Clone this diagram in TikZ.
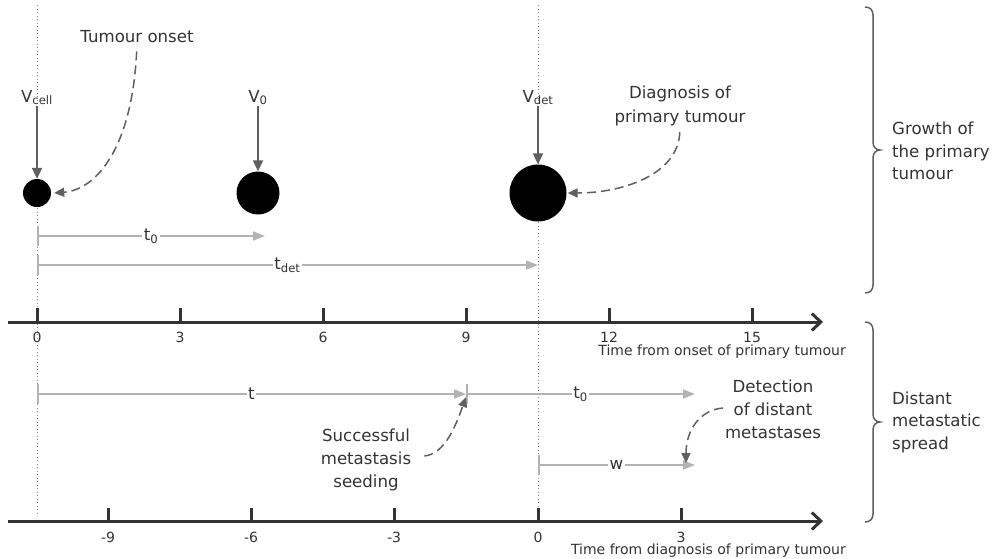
\documentclass[tikz,border=0pt]{standalone}
\usepackage{fontspec}
\setmainfont{DejaVu Sans}
\usetikzlibrary{arrows.meta}
\definecolor{ink}{HTML}{333333}
\definecolor{darr}{HTML}{5F5F5F}
\definecolor{lgray}{HTML}{B3B3B3}
\definecolor{dotc}{HTML}{8A8A8A}
\newcommand{\lowsub}[1]{\textsubscript{#1}}
\begin{document}
\begin{tikzpicture}[x=1pt,y=-1pt,
  big/.style={font=\fontsize{16.6}{24}\selectfont, text=ink, inner sep=1pt, align=center},
  bracetxt/.style={font=\fontsize{16.6}{22.5}\selectfont, text=ink, inner sep=1pt, align=left, anchor=west},
  small/.style={font=\fontsize{14}{17}\selectfont, text=ink, inner sep=1pt},
  tumour/.style={circle, fill=black, inner sep=0pt, minimum size=#1},
  axisline/.style={line width=3pt, draw=ink, -{Straight Barb[length=9pt,width=17pt,line width=3pt]}},
  tickmark/.style={line width=3pt, draw=ink},
  vdown/.style={line width=2pt, draw=darr, -{Triangle[length=11pt,width=10pt]}},
  callout/.style={line width=1.5pt, draw=darr, dash pattern=on 9pt off 5pt, -{Triangle[length=10pt,width=9pt]}},
  span/.style={line width=1.6pt, draw=lgray, {Bar[width=20pt]}-{Triangle[length=12pt,width=9pt]}},
  spanlbl/.style={fill=white, font=\fontsize{16.6}{20}\selectfont, text=ink, inner sep=1.5pt},
  guide/.style={draw=dotc, line width=1pt, dash pattern=on 1pt off 2.5pt},
  bracec/.style={draw=darr, line width=1.5pt}
]
\useasboundingbox (0,0) rectangle (994,558);

% guide lines
\coordinate (g1top) at (37,5);
\coordinate (g1bot) at (37,515);
\coordinate (g2top) at (538,5);
\coordinate (g2bot) at (538,508);
\draw[guide] (g1top) -- (g1bot);
\draw[guide] (g2top) -- (g2bot);

% tumours
\node[tumour=28pt] (c1) at (37,193) {};
\node[tumour=43pt] (c2) at (258,193) {};
\node[tumour=57pt] (c3) at (538,193) {};

% volume labels
\node[big, anchor=base] (vcell) at (37,102) {V\lowsub{cell}};
\node[big, anchor=base] (vzero) at (258,102) {V\lowsub{0}};
\node[big, anchor=base] (vdet) at (538,102) {V\lowsub{det}};
\draw[vdown] (vcell) -- (c1);
\draw[vdown] (vzero) -- (c2);
\draw[vdown] (vdet) -- (c3);

% callouts top
\node[big] (onset) at (137,37) {Tumour onset};
\node[big] (diag) at (680,106) {Diagnosis of\\primary tumour};
\draw[callout, shorten <=7pt] (onset.south) .. controls (132,150) and (95,190) .. ([xshift=3pt]c1.east);
\draw[callout, shorten <=5pt] (diag.south) .. controls (678,175) and (622,193) .. ([xshift=1pt]c3.east);

% spans top
\coordinate (a0) at (37,236);
\coordinate (a1) at (265,236);
\coordinate (b0) at (37,265);
\coordinate (b1) at (538,265);
\draw[span] (a0) -- node[spanlbl] {t\lowsub{0}} (a1);
\draw[span] (b0) -- node[spanlbl] {t\lowsub{det}} (b1);

% upper axis
\coordinate (ax1s) at (8,322);
\coordinate (ax1e) at (823,322);
\draw[axisline] (ax1s) -- (ax1e);
\foreach \v/\x in {0/37,3/180,6/323,9/466,12/609,15/752}{
  \draw[tickmark] (\x,308) -- (\x,322);
  \node[small] at (\x,337) {\v};
}
\node[small, anchor=base east] (ax1t) at (847,355) {Time from onset of primary tumour};

% spans bottom
\coordinate (s0) at (37,394);
\coordinate (tend) at (466,394);
\coordinate (s2) at (695,394);
\coordinate (w0) at (538,465);
\coordinate (wend) at (695,465);
\draw[span] (s0) -- node[spanlbl] {t} (tend);
\draw[span] (tend) -- node[spanlbl] {t\lowsub{0}} (s2);
\draw[span] (w0) -- node[spanlbl] {w} (wend);

% callouts bottom
\node[big, font=\fontsize{16.6}{23}\selectfont] (seed) at (366,460) {Successful\\metastasis\\seeding};
\node[big, font=\fontsize{16.6}{23}\selectfont] (detect) at (773,409) {Detection\\of distant\\metastases};
\draw[callout] ([xshift=12pt,yshift=4pt]seed.east) .. controls (445,454) and (456,425) .. ([yshift=-3pt]tend);
\draw[callout] ([xshift=-1pt,yshift=1pt]detect.west) .. controls (700,410) and (686,430) .. ([xshift=-9pt,yshift=2pt]wend);

% lower axis
\coordinate (ax2s) at (8,521);
\coordinate (ax2e) at (823,521);
\draw[axisline] (ax2s) -- (ax2e);
\foreach \v/\x in {-9/108,-6/251,-3/394,0/538,3/681}{
  \draw[tickmark] (\x,508) -- (\x,521);
  \node[small] at (\x,537) {\v};
}
\node[small, anchor=base east] (ax2t) at (847,554) {Time from diagnosis of primary tumour};

% braces
\draw[bracec] (865,7) .. controls (870,7) and (873,10) .. (873,15) -- (873,142)
  .. controls (873,147) and (876,150) .. (880,150)
  .. controls (876,150) and (873,153) .. (873,158) -- (873,285)
  .. controls (873,290) and (870,293) .. (865,293);
\draw[bracec] (865,322) .. controls (870,322) and (873,325) .. (873,330) -- (873,414)
  .. controls (873,419) and (876,422) .. (880,422)
  .. controls (876,422) and (873,425) .. (873,430) -- (873,514)
  .. controls (873,519) and (870,522) .. (865,522);
\node[bracetxt] (grow) at (891,151) {Growth of\\the primary\\tumour};
\node[bracetxt] (spread) at (891,422) {Distant\\metastatic\\spread};
\end{tikzpicture}
\end{document}
